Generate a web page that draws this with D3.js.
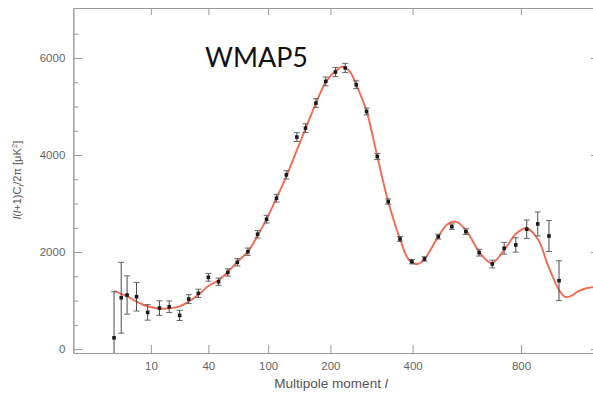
<!DOCTYPE html>
<html>
<head>
<meta charset="utf-8">
<script src="https://cdn.jsdelivr.net/npm/d3@7"></script>
<style>
  html, body { margin: 0; padding: 0; background: #fff; }
  svg { display: block; }
</style>
</head>
<body>
<script>
// Binned TT power spectrum: multipole, band power and 1-sigma error
const binEll  = [2, 3, 4, 6, 9, 13, 17, 22, 27, 33, 40, 48, 56, 65, 76, 87, 98, 111, 125, 141, 155, 173, 191, 210, 230, 254, 278, 304, 332, 364, 398, 436, 480, 526, 576, 626, 678, 727, 777, 826, 877, 931, 981];
const binPow  = [233, 1059, 1115, 1080, 757, 846, 873, 695, 1032, 1150, 1480, 1389, 1580, 1789, 2008, 2367, 2677, 3110, 3591, 4370, 4555, 5071, 5517, 5711, 5794, 5449, 4898, 3969, 3040, 2270, 1802, 1858, 2318, 2524, 2421, 1988, 1754, 2078, 2147, 2471, 2580, 2332, 1410];
const binErr  = [950, 730, 395, 295, 160, 150, 120, 105, 90, 85, 80, 75, 75, 75, 75, 75, 80, 80, 85, 90, 90, 90, 90, 95, 95, 80, 70, 60, 55, 50, 45, 45, 50, 55, 60, 70, 80, 120, 148, 190, 248, 320, 410];

// Best-fit model curve
const modelEll = [2, 3, 4, 6, 9, 13, 17, 22, 27, 33, 40, 48, 56, 65, 76, 87, 98, 111, 125, 141, 155, 173, 191, 210, 225, 240, 254, 278, 304, 332, 364, 390, 415, 436, 480, 510, 540, 576, 626, 675, 727, 780, 826, 880, 925, 950, 981, 1012, 1040, 1080, 1120, 1155, 1200];
const modelPow = [1200, 1140, 1090, 980, 880, 835, 840, 880, 980, 1120, 1300, 1420, 1590, 1800, 2010, 2340, 2680, 3110, 3560, 4100, 4540, 5070, 5500, 5730, 5820, 5720, 5450, 4900, 3970, 3040, 2270, 1830, 1754, 1858, 2318, 2570, 2627, 2456, 2008, 1769, 2043, 2388, 2491, 2250, 1734, 1490, 1218, 1075, 1090, 1190, 1250, 1273, 1285];

// Axis ticks
const xTicks = [10, 40, 100, 200, 400, 800];
const yMajor = [0, 2000, 4000, 6000];
const yMinor = [500, 1000, 1500, 2500, 3000, 3500, 4500, 5000, 5500, 6500];

const W = 593, H = 394;
const mLeft = 73.3, mTop = 8, mBottom = 353, mRight = 599.8;

const svg = d3.select("body").append("svg")
  .attr("width", W).attr("height", H)
  .style("font-family", "'Liberation Sans', Arial, sans-serif");

svg.append("rect").attr("width", W).attr("height", H).attr("fill", "#fff");

const x = d3.scalePow().exponent(0.4).domain([0, 1200]).range([mLeft, mRight]);
const y = d3.scaleLinear().domain([-80, 7030]).range([mBottom, mTop]);

svg.append("defs").append("clipPath").attr("id", "plot")
  .append("rect").attr("x", mLeft).attr("y", mTop)
  .attr("width", mRight - mLeft).attr("height", mBottom - mTop);

const axisColor = "#9a9a9a";
function styleAxis(g) {
  g.selectAll("path, line").attr("stroke", axisColor).attr("stroke-width", 1);
  g.selectAll("text").attr("fill", "#666").style("font-size", "11.5px");
}

// Left axis
svg.append("g").attr("transform", `translate(${mLeft},0)`)
  .call(d3.axisLeft(y).tickValues(yMinor).tickSize(-5).tickSizeOuter(0).tickFormat(""))
  .call(styleAxis);
svg.append("g").attr("transform", `translate(${mLeft},0)`)
  .call(d3.axisLeft(y).tickValues(yMajor).tickSize(-9).tickSizeOuter(0).tickPadding(8).tickFormat(d3.format("d")))
  .call(styleAxis);

// Right axis
svg.append("g").attr("transform", `translate(${mRight},0)`)
  .call(d3.axisRight(y).tickValues(yMinor).tickSize(-5).tickSizeOuter(0).tickFormat(""))
  .call(styleAxis);
svg.append("g").attr("transform", `translate(${mRight},0)`)
  .call(d3.axisRight(y).tickValues(yMajor).tickSize(-9).tickSizeOuter(0).tickFormat(""))
  .call(styleAxis);

// Bottom axis
svg.append("g").attr("transform", `translate(0,${mBottom})`)
  .call(d3.axisBottom(x).tickValues(xTicks).tickSize(-8).tickSizeOuter(0).tickPadding(9).tickFormat(d3.format("d")))
  .call(styleAxis);

// Top axis
svg.append("g").attr("transform", `translate(0,${mTop})`)
  .call(d3.axisTop(x).tickValues(xTicks).tickSize(-7).tickSizeOuter(0).tickFormat(""))
  .call(styleAxis);

const plot = svg.append("g").attr("clip-path", "url(#plot)");

// Model curve
const model = modelEll.map((l, i) => [l, modelPow[i]]);
plot.append("path")
  .datum(model)
  .attr("fill", "none")
  .attr("stroke", "#f26a50")
  .attr("stroke-width", 1.9)
  .attr("stroke-linejoin", "round")
  .attr("d", d3.line().x(d => x(d[0])).y(d => y(d[1])).curve(d3.curveCatmullRom.alpha(0.5)));

// Binned points with error bars
const bins = binEll.map((l, i) => ({ l, p: binPow[i], e: binErr[i] }));
const g = plot.selectAll("g.bin").data(bins).join("g").attr("class", "bin");
g.append("line")
  .attr("x1", d => x(d.l)).attr("x2", d => x(d.l))
  .attr("y1", d => y(d.p - d.e)).attr("y2", d => y(d.p + d.e))
  .attr("stroke", "#4a4a4a").attr("stroke-width", 1);
g.append("line")
  .attr("x1", d => x(d.l) - 3).attr("x2", d => x(d.l) + 3)
  .attr("y1", d => y(d.p + d.e)).attr("y2", d => y(d.p + d.e))
  .attr("stroke", "#666").attr("stroke-width", 1);
g.append("line")
  .attr("x1", d => x(d.l) - 3).attr("x2", d => x(d.l) + 3)
  .attr("y1", d => y(d.p - d.e)).attr("y2", d => y(d.p - d.e))
  .attr("stroke", "#666").attr("stroke-width", 1);
g.append("rect")
  .attr("x", d => x(d.l) - 1.8).attr("y", d => y(d.p) - 1.8)
  .attr("width", 3.6).attr("height", 3.6)
  .attr("fill", "#1a1a1a");

// Axis titles
svg.append("text")
  .attr("x", 331).attr("y", 388)
  .attr("text-anchor", "middle")
  .attr("fill", "#555")
  .style("font-size", "13.5px")
  .html("Multipole moment <tspan font-style='italic'>l</tspan>");

const yl = svg.append("text")
  .attr("transform", "translate(21,180) rotate(-90)")
  .attr("text-anchor", "middle")
  .attr("fill", "#555")
  .style("font-size", "11px");
yl.append("tspan").attr("font-style", "italic").text("l");
yl.append("tspan").text("(");
yl.append("tspan").attr("font-style", "italic").text("l");
yl.append("tspan").text("+1)C");
yl.append("tspan").attr("font-style", "italic").attr("dy", 3).style("font-size", "8px").text("l");
yl.append("tspan").attr("dy", -3).text("/2π [μK");
yl.append("tspan").attr("dy", -4).style("font-size", "8px").text("2");
yl.append("tspan").attr("dy", 4).text("]");

// Title
svg.append("text")
  .attr("x", 205).attr("y", 67)
  .attr("fill", "#111")
  .attr("textLength", 103)
  .attr("lengthAdjust", "spacingAndGlyphs")
  .style("font-family", "Lato, 'Open Sans', sans-serif")
  .style("font-weight", 400)
  .style("font-size", "27px")
  .text("WMAP5");
</script>
</body>
</html>
